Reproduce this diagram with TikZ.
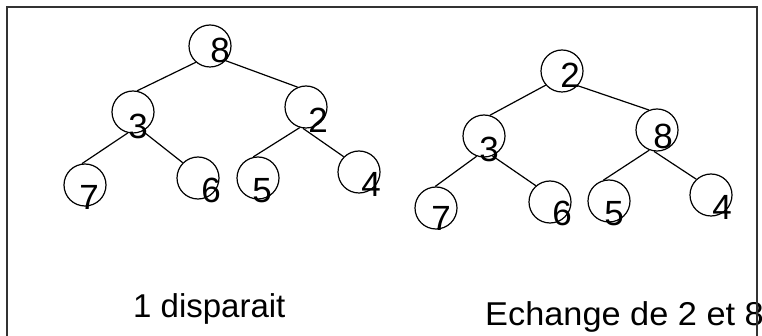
\documentclass[tikz,border=0pt]{standalone}
\usepackage{fontspec}
\setmainfont{Liberation Sans}
\begin{document}
\begin{tikzpicture}[x=1pt,y=-1pt,
  nd/.style={circle,draw,line width=1.2pt,minimum size=42pt,inner sep=0pt},
  dg/.style={inner sep=0pt,font=\fontsize{35}{35}\selectfont},
  lab/.style={inner sep=0pt,anchor=base west,font=\fontsize{33}{33}\selectfont},
  ed/.style={line width=1.2pt},
  frm/.style={line width=1.3pt,black!80}]
\useasboundingbox (0,0) rectangle (762,336);
% left tree circles
\node[nd] (a8) at (210,46) {};
\node[nd] (a3) at (133,112) {};
\node[nd] (a2) at (306,107) {};
\node[nd] (a7) at (85,185) {};
\node[nd] (a6) at (198,178) {};
\node[nd] (a5) at (258,178) {};
\node[nd] (a4) at (359,172) {};
% left tree digits
\node[dg] (t8) at (220,50) {8};
\node[dg] (t3) at (138,126) {3};
\node[dg] (t2) at (318,120) {2};
\node[dg] (t7) at (89,197) {7};
\node[dg] (t6) at (211,190) {6};
\node[dg] (t5) at (262,191) {5};
\node[dg] (t4) at (371,184) {4};
% left tree edges
\draw[ed] (a8.229) -- (a3.79);
\draw[ed] (a8.317) -- (a2.113);
\draw[ed] (a3.256) -- (a7.98);
\draw[ed] (a3.297) -- (a6.135);
\draw[ed] (a2.253) -- (a5.103);
\draw[ed] (a2.262) -- (a4.135);
% right tree circles
\node[nd] (b2) at (562,71) {};
\node[nd] (b3) at (484,136) {};
\node[nd] (b8) at (657,130) {};
\node[nd] (b7) at (436,208) {};
\node[nd] (b6) at (550,202) {};
\node[nd] (b5) at (609,201) {};
\node[nd] (b4) at (711,195) {};
% right tree digits
\node[dg] (u2) at (570,75) {2};
\node[dg] (u3) at (489,149) {3};
\node[dg] (u8) at (663,136) {8};
\node[dg] (u7) at (441,218) {7};
\node[dg] (u6) at (562,213) {6};
\node[dg] (u5) at (614,214) {5};
\node[dg] (u4) at (722,207) {4};
% right tree edges
\draw[ed] (b2.221) -- (b3.74);
\draw[ed] (b2.317) -- (b8.112);
\draw[ed] (b3.250) -- (b7.92);
\draw[ed] (b3.293) -- (b6.131);
\draw[ed] (b8.249) -- (b5.105);
\draw[ed] (b8.262) -- (b4.133);
% labels
\node[lab] (l1) at (133,317) {1 disparait};
\node[lab, xscale=1.04] (l2) at (485,325) {Echange de 2 et 8};
% frame
\draw[frm] (7,336) -- (7,7) -- (757,7) -- (757,336);
\end{tikzpicture}
\end{document}
